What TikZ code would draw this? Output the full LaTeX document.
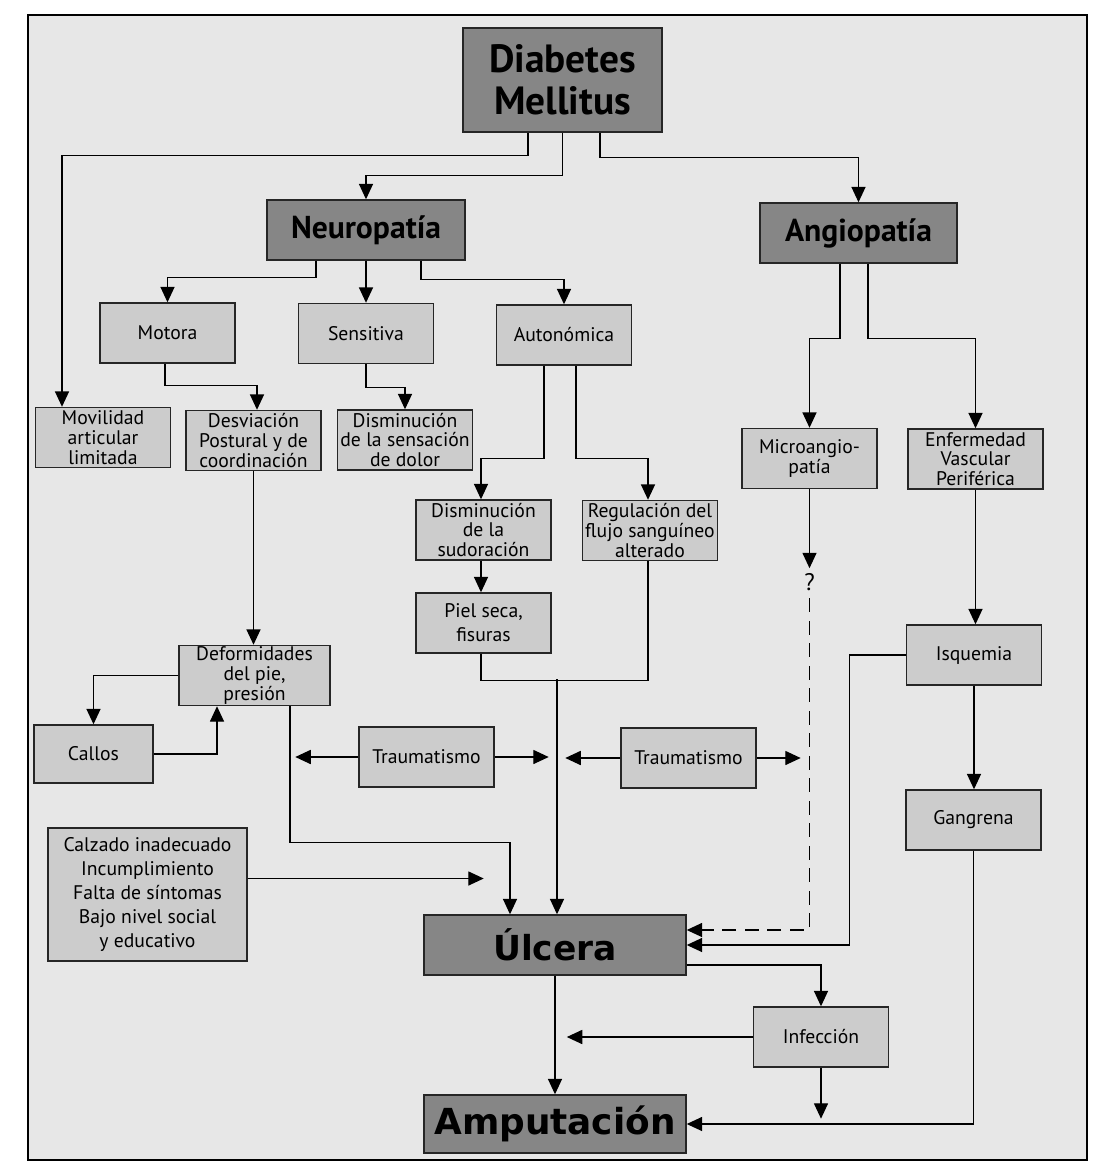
\documentclass[tikz,border=0pt]{standalone}
\usepackage{fontspec}
\setmainfont{PT Sans}
\newfontfamily\heavyfont{DejaVu Sans}
\usetikzlibrary{arrows.meta,calc}

\definecolor{paper}{RGB}{231,231,231}
\definecolor{boxlight}{RGB}{204,204,204}
\definecolor{boxdark}{RGB}{134,134,134}

\begin{document}
\begin{tikzpicture}[x=0.025cm, y=-0.025cm,
    lightbox/.style={draw=black!85, line width=1pt, fill=boxlight, align=center, inner sep=1pt,
      font=\fontsize{14}{14}\selectfont, minimum width=3.375cm, minimum height=1.5cm},
    darkbox/.style={draw=black!85, line width=1pt, fill=boxdark, align=center, inner sep=1pt,
      font=\bfseries\fontsize{22.5}{26}\selectfont, minimum width=4.95cm, minimum height=1.5cm},
    endbox/.style={darkbox, minimum width=6.55cm, font=\heavyfont\bfseries\fontsize{24.5}{28}\selectfont},
    arr/.style={line width=1pt, -{Triangle[length=11pt,width=10pt]}},
    ln/.style={line width=1pt}]
        \fill[white] (0,0) rectangle (1104,1171);
        \useasboundingbox (0,0) rectangle (1104,1171);
        % Frame
        \draw[line width=1.6pt, fill=paper] (28,15) rectangle (1087,1160);

        % Top level
        \node[darkbox, minimum width=4.975cm, minimum height=2.6cm, font=\bfseries\fontsize{28}{30}\selectfont] (dm) at (562.5,80) {Diabetes\\Mellitus};
        \node[darkbox] (neu) at (366,230) {Neuropatía};
        \node[darkbox, minimum width=4.925cm] (ang) at (858.5,233) {Angiopatía};

        % Neuropathy branches
        \node[lightbox] (mot) at (167.5,333) {Motora};
        \node[lightbox] (sen) at (366,333.5) {Sensitiva};
        \node[lightbox] (aut) at (564,335) {Autonómica};
        \node[lightbox] (mov) at (103,437.5) {Movilidad\\articular\\limitada};
        \node[lightbox] (des) at (253.5,440.5) {Desviación\\Postural y de\\coordinación};
        \node[lightbox] (dol) at (405,440) {Disminución\\de la sensación\\de dolor};
        \node[lightbox] (sud) at (483.5,530) {Disminución\\de la\\sudoración};
        \node[lightbox] (reg) at (650,530.5) {Regulación del\\flujo sanguíneo\\alterado};
        \node[lightbox, font=\fontsize{14}{17}\selectfont] (piel) at (483.5,623) {Piel seca,\\fisuras};
        \node[lightbox, minimum width=3.775cm] (def) at (254.5,675.5) {Deformidades\\del pie,\\presión};
        \node[lightbox, minimum width=2.975cm, minimum height=1.45cm] (cal) at (93.5,754) {Callos};
        \node[lightbox] (tr1) at (426.5,757) {Traumatismo};
        \node[lightbox] (tr2) at (688.5,758) {Traumatismo};
        \node[lightbox, minimum width=4.975cm, minimum height=3.325cm, font=\fontsize{14}{17}\selectfont] (calz) at (147.5,894.5)
            {Calzado inadecuado\\Incumplimiento\\Falta de síntomas\\Bajo nivel social\\y educativo};

        % Angiopathy branches
        \node[lightbox] (mic) at (809.5,458.5) {Microangio-\\patía};
        \node[lightbox] (evp) at (975.5,459) {Enfermedad\\Vascular\\Periférica};
        \node[lightbox] (isq) at (974,655) {Isquemia};
        \node[lightbox] (gan) at (973.5,820) {Gangrena};
        \node[font=\fontsize{17}{20}\selectfont, inner sep=1pt] (qm) at (809.5,582) {?};

        % Outcome
        \node[endbox] (ulc) at (555,945) {Úlcera};
        \node[lightbox] (inf) at (821,1037) {Infección};
        \node[endbox, minimum height=1.45cm, font=\heavyfont\bfseries\fontsize{25.5}{28}\selectfont] (amp) at (555,1124) {Amputación};

        % Links from the top
        \draw[arr] ($(dm.south)+(-34.5,0)$) -- ++(0,23) -| ($(mov.north)+(-41,0)$);
        \draw[arr] (dm.south) -- ++(0,43) -| (neu.north);
        \draw[arr] ($(dm.south)+(37.5,0)$) -- ++(0,25) -| (ang.north);
        \draw[arr] ($(neu.south)+(-50,0)$) -- ++(0,17) -| (mot.north);
        \draw[arr] (neu.south) -- (sen.north);
        \draw[arr] ($(neu.south)+(55,0)$) -- ++(0,19) -| (aut.north);
        \draw[arr] ($(ang.south)+(-18.5,0)$) -- ++(0,75) -| (mic.north);
        \draw[arr] ($(ang.south)+(9.5,0)$) -- ++(0,75) -| (evp.north);

        % Neuropathy links
        \draw[arr] ($(mot.south)+(-2.5,0)$) -- ++(0,22) -| ($(des.north)+(3.5,0)$);
        \draw[arr] (sen.south) -- ++(0,23) -| (dol.north);
        \draw[arr] ($(aut.south)+(-20,0)$) -- ++(0,93) -| ($(sud.north)+(-2.5,0)$);
        \draw[arr] ($(aut.south)+(12,0)$) -- ++(0,93) -| ($(reg.north)+(-2,0)$);
        \draw[arr] ($(sud.south)+(-2.5,0)$) -- ($(piel.north)+(-2.5,0)$);
        \draw[arr] (des.south) -- (des.south |- def.north);
        \draw[ln] ($(piel.south)+(-2.5,0)$) -- ++(0,27) -| ($(reg.south)+(-2,0)$);
        \draw[arr] ($(ulc.north)+(2,-235)$) -- ($(ulc.north)+(2,0)$);
        \draw[arr] (def.west) -| (cal.north);
        \draw[arr] (cal.east) -| ($(def.south)+(-37.5,0)$);
        \draw[arr] ($(def.south)+(35.5,0)$) -- ++(0,136) -| ($(ulc.north)+(-45,0)$);
        \draw[arr] (tr1.west) -- ++(-63,0);
        \draw[arr] (tr1.east) -- ++(54,0);
        \draw[arr] (tr2.west) -- ++(-55,0);
        \draw[arr] (tr2.east) -- ++(44,0);
        \draw[arr] ($(calz.east)+(0,-16)$) -- ++(236,0);

        % Angiopathy links
        \draw[arr] (mic.south) -- ++(0,79);
        \draw[arr, dash pattern=on 10pt off 6pt] ($(qm.south)+(0,6)$) |- ($(ulc.east)+(0,-15)$);
        \draw[arr] (isq.west) -- ++(-56,0) |- (ulc.east);
        \draw[arr] (evp.south) -- (evp.south |- isq.north);
        \draw[arr] (isq.south) -- (isq.south |- gan.north);
        \draw[arr] (gan.south) |- (amp.east);

        % Ulcer to amputation
        \draw[arr] ($(ulc.east)+(0,20)$) -| (inf.north);
        \draw[arr] (inf.west) -- ++(-186,0);
        \draw[arr] (inf.south) -- ++(0,51);
        \draw[arr] (ulc.south) -- (amp.north);
\end{tikzpicture}
\end{document}
